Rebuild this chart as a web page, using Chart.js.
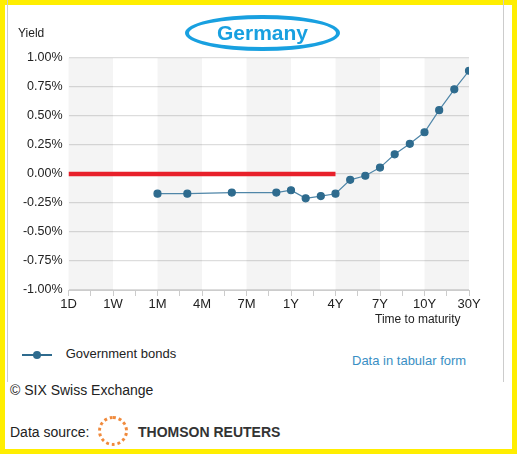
<!DOCTYPE html>
<html>
<head>
<meta charset="utf-8">
<script src="https://cdn.jsdelivr.net/npm/chart.js@4"></script>
<style>
  body { margin: 0; background: #fff; font-family: Arial, "Liberation Sans", sans-serif; }
  #frame { position: absolute; left: 0; top: 0; width: 507px; height: 444px; border: 5px solid #ffee00; }
  #inner { position: absolute; left: 7px; top: 0; width: 495px; height: 382px; border-left: 1px solid #ccc; border-right: 1px solid #ccc; }
  #wrap { position: absolute; left: 0; top: 0; width: 517px; height: 340px; }
  .t { position: absolute; color: #222; font-size: 13px; white-space: nowrap; }
  #title { position: absolute; left: 185px; top: 15px; width: 155px; height: 36px; border: 4px solid #18a0e0; border-radius: 50%; box-sizing: border-box;
           color: #18a0e0; font-weight: bold; font-size: 21px; text-align: center; line-height: 28px; }
</style>
</head>
<body>
<div id="frame"></div>
<div id="inner"></div>
<div id="wrap"><canvas id="c" width="517" height="340"></canvas></div>
<div id="title">Germany</div>
<div class="t" style="left:18px;top:26px;font-size:12px">Yield</div>
<div class="t" style="left:375px;top:312px;font-size:12px">Time to maturity</div>
<div class="t" style="left:22px;top:346px">
  <span style="display:inline-block;width:30px;height:2px;background:#2e6b8e;vertical-align:middle;position:relative">
    <span style="position:absolute;left:11px;top:-3px;width:8px;height:8px;border-radius:50%;background:#2e6b8e"></span></span>
  <span style="margin-left:10px">Government bonds</span>
</div>
<div class="t" style="left:352px;top:353px;color:#3a8fc4">Data in tabular form</div>
<div class="t" style="left:10px;top:382px;font-size:14px">© SIX Swiss Exchange</div>
<div class="t" style="left:10px;top:424px;font-size:14px">Data source:</div>
<div style="position:absolute;left:98px;top:416px;width:30px;height:30px;border-radius:50%;border:3px dotted #f08a3c;box-sizing:border-box"></div>
<div class="t" style="left:138px;top:424px;font-size:14px;font-weight:bold;color:#333">THOMSON REUTERS</div>
<script>
const tickLabels = ['1D', '1W', '1M', '4M', '7M', '1Y', '4Y', '7Y', '10Y', '30Y'];
const maturityPos = [2, 2.67, 3.67, 4.67, 5, 5.33, 5.67, 6, 6.33, 6.67, 7, 7.33, 7.67, 8, 8.33, 8.67, 9];
const yields = [-0.17, -0.17, -0.16, -0.16, -0.14, -0.21, -0.19, -0.17, -0.05, -0.015, 0.055, 0.17, 0.26, 0.36, 0.55, 0.73, 0.89];
const markerLine = [[0, 0], [6, 0]];

const bands = {
  id: 'bands',
  beforeDatasetsDraw(chart) {
    const { ctx, chartArea, scales } = chart;
    ctx.save();
    ctx.fillStyle = 'rgba(0,0,0,0.045)';
    for (let i = 0; i < tickLabels.length - 1; i += 2) {
      const a = scales.x.getPixelForValue(i), b = scales.x.getPixelForValue(i + 1);
      ctx.fillRect(a, chartArea.top, b - a, chartArea.bottom - chartArea.top);
    }
    ctx.restore();
  }
};

new Chart(document.getElementById('c'), {
  type: 'line',
  data: {
    datasets: [{
      data: maturityPos.map((x, i) => ({ x, y: yields[i] })),
      borderColor: '#4f86a8', borderWidth: 1.2,
      pointBackgroundColor: '#2e6b8e', pointBorderColor: '#2e6b8e', pointRadius: 3.5
    }, {
      data: markerLine.map(p => ({ x: p[0], y: p[1] })),
      borderColor: '#e8202a', borderWidth: 4.5, pointRadius: 0
    }]
  },
  options: {
    responsive: false, animation: false,
    layout: { padding: { top: 58, right: 48, left: 0, bottom: 0 } },
    plugins: { legend: { display: false }, tooltip: { enabled: false } },
    scales: {
      x: {
        type: 'linear', min: 0, max: 9,
        afterFit(s) { s.height = 50; },
        border: { color: '#ccc' },
        grid: { drawOnChartArea: false, color: '#ccc', tickLength: 6 },
        ticks: {
          stepSize: 0.5, autoSkip: false, maxRotation: 0, padding: 1, color: '#222', font: { size: 13, family: 'Arial' },
          callback: v => Number.isInteger(v) ? tickLabels[v] : ''
        }
      },
      y: {
        min: -1, max: 1,
        afterFit(s) { s.width = 68.5; },
        border: { display: false },
        grid: { color: '#ddd', lineWidth: 1.2, drawTicks: false },
        ticks: { stepSize: 0.25, padding: 6, color: '#222', font: { size: 12.5, family: 'Arial' },
          callback: v => v.toFixed(2) + '%' }
      }
    }
  },
  plugins: [bands]
});
</script>
</body>
</html>
